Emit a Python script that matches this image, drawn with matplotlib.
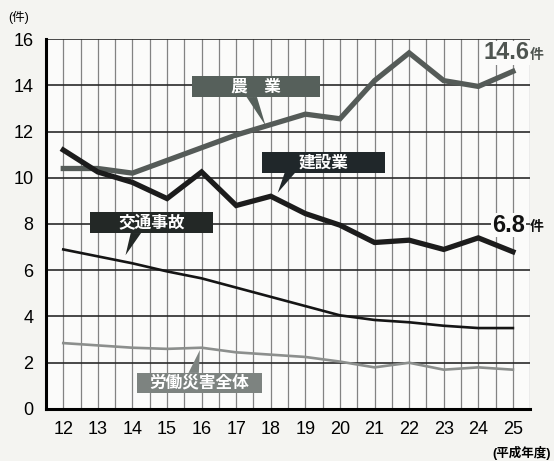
import matplotlib
matplotlib.use('Agg')
from matplotlib import pyplot as plt
from matplotlib.patches import Rectangle, Polygon

plt.rcParams['font.family'] = ['Liberation Sans', 'Noto Sans CJK JP']

# 平成12～25年度
years = [12, 13, 14, 15, 16, 17, 18, 19, 20, 21, 22, 23, 24, 25]
nogyo = [10.4, 10.4, 10.2, 10.75, 11.3, 11.85, 12.3, 12.75, 12.55, 14.2, 15.4, 14.2, 13.95, 14.6]
kensetsu = [11.2, 10.25, 9.8, 9.1, 10.25, 8.8, 9.2, 8.45, 7.95, 7.2, 7.3, 6.9, 7.4, 6.8]
kotsu = [6.9, 6.6, 6.3, 5.95, 5.65, 5.25, 4.85, 4.45, 4.05, 3.85, 3.75, 3.6, 3.5, 3.5]
rosai = [2.85, 2.75, 2.65, 2.6, 2.65, 2.45, 2.35, 2.25, 2.05, 1.8, 2.0, 1.7, 1.8, 1.7]
yticks = [0, 2, 4, 6, 8, 10, 12, 14, 16]

fig = plt.figure(figsize=(5.54, 4.61), dpi=100)
fig.patch.set_facecolor('#f4f4f1')
ax = fig.add_axes([0.083, 0.1128, 0.874, 0.8026])
ax.set_facecolor('#fbfbfa')

ax.set_xlim(11.5, 25.5)
ax.set_ylim(0, 16)

# 縦線は半年ごと、横線は2件ごと
for gx in [11.5 + 0.5 * i for i in range(1, 29)]:
    ax.axvline(gx, color='#838383', lw=0.9, zorder=1)
for gy in yticks[1:]:
    ax.axhline(gy, color='#2a2a2a', lw=1.2, zorder=1)

for side in ['top', 'right']:
    ax.spines[side].set_visible(False)
ax.spines['left'].set_linewidth(2.2)
ax.spines['bottom'].set_linewidth(2.2)

ax.plot(years, nogyo, color='#555b58', lw=3.8, solid_joinstyle='miter', zorder=4)
ax.plot(years, kensetsu, color='#1c1c1c', lw=3.8, solid_joinstyle='miter', zorder=4)
ax.plot(years, kotsu, color='#151515', lw=1.9, zorder=3)
ax.plot(years, rosai, color='#8c8f8d', lw=1.9, zorder=3)

ax.set_xticks(years)
ax.set_xticklabels([str(y) for y in years], fontsize=13)
ax.set_yticks(yticks)
ax.set_yticklabels([str(y) for y in yticks], fontsize=13)
ax.tick_params(length=0)
ax.tick_params(axis='x', pad=9)
ax.tick_params(axis='y', pad=9)

# 系列名のラベル(吹き出し)
def label_box(x0, x1, y0, y1, base, tip, text, color):
    ax.add_patch(Polygon([(base[0], y0), (base[1], y0), tip], closed=True,
                         facecolor=color, edgecolor='none', zorder=5, clip_on=False))
    ax.add_patch(Rectangle((x0, y0), x1 - x0, y1 - y0, facecolor=color,
                           edgecolor='none', zorder=6, clip_on=False))
    ax.text((x0 + x1) / 2, (y0 + y1) / 2, text, color='white', fontsize=12,
            ha='center', va='center', zorder=7, fontweight='bold')

label_box(15.72, 19.43, 13.49, 14.40, (17.3, 17.6), (17.85, 12.25), '農　業', '#56605b')
label_box(17.75, 21.31, 10.21, 11.11, (18.4, 18.7), (18.2, 9.35), '建設業', '#20272a')
label_box(12.77, 16.33, 7.61, 8.52, (13.95, 14.25), (13.8, 6.65), '交通事故', '#232826')
# 労働災害全体は下から上へ向く
ax.add_patch(Polygon([(15.62, 1.56), (15.92, 1.56), (15.95, 2.55)], closed=True,
                     facecolor='#7d8380', edgecolor='none', zorder=5))
ax.add_patch(Rectangle((14.13, 0.69), 3.62, 0.87, facecolor='#7d8380',
                       edgecolor='none', zorder=6))
ax.text(15.94, 1.125, '労働災害全体', color='white', fontsize=12,
        ha='center', va='center', zorder=7, fontweight='bold')

# 最新値
ax.text(24.15, 15.4, f'{nogyo[-1]:.1f}', color='#4f5551', fontsize=17, fontweight='bold',
        ha='left', va='center', zorder=7, clip_on=False,
        bbox=dict(facecolor='#fbfbfa', edgecolor='none', pad=0.5))
ax.text(25.5, 15.3, '件', color='#4f5551', fontsize=10, fontweight='bold',
        ha='left', va='center', zorder=7, clip_on=False)
ax.text(24.4, 7.95, f'{kensetsu[-1]:.1f}', color='#111111', fontsize=17, fontweight='bold',
        ha='left', va='center', zorder=7, clip_on=False,
        bbox=dict(facecolor='#fbfbfa', edgecolor='none', pad=0.5))
ax.text(25.5, 7.85, '件', color='#111111', fontsize=10, fontweight='bold',
        ha='left', va='center', zorder=7, clip_on=False)

fig.text(0.014, 0.962, '(件)', fontsize=9, ha='left', va='center')
fig.text(0.995, 0.018, '(平成年度)', fontsize=9, ha='right', va='center', fontweight='bold')

plt.savefig('out.png', dpi=100, facecolor=fig.get_facecolor())
